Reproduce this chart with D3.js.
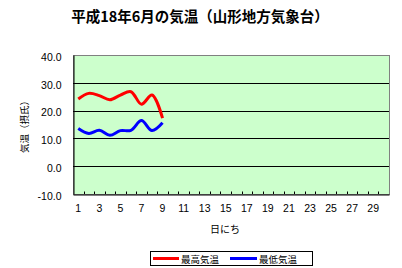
<!DOCTYPE html>
<html><head><meta charset="utf-8">
<script src="https://cdn.jsdelivr.net/npm/d3@7"></script>
<style>
html,body{margin:0;padding:0;background:#fff;}
svg{display:block;font-family:"Noto Sans CJK JP","Noto Sans",sans-serif;}
</style></head><body>
<svg id="c" width="402" height="268"></svg>
<script>
const days = d3.range(1, 31);
const dataDays = [1,2,3,4,5,6,7,8,9];
const maxTemp = [24.2, 26.2, 25.4, 23.9, 25.6, 26.8, 22.3, 25.6, 17.3];
const minTemp = [13.6, 11.8, 12.9, 11.1, 12.8, 12.9, 16.4, 12.8, 15.6];
const yTicks = [40, 30, 20, 10, 0, -10];
const xTickLabels = [1,3,5,7,9,11,13,15,17,19,21,23,25,27,29];
const seriesNames = ["最高気温", "最低気温"];
const seriesColors = ["#ff0000", "#0000ff"];
const title = "平成18年6月の気温（山形地方気象台）";
const yTitle = "気温（摂氏）";
const xTitle = "日にち";

const svg = d3.select("#c");
const L = 73, R = 389, T = 55, B = 194;

const x = d3.scaleBand().domain(days).range([L, R]);
const y = d3.scaleLinear().domain([-10, 40]).range([B, T]);

// plot background
svg.append("rect").attr("x", L).attr("y", T).attr("width", R - L).attr("height", B - T)
  .attr("fill", "#ccffcc").attr("stroke", "#808080").attr("stroke-width", 1)
  .attr("shape-rendering", "crispEdges");

// gridlines
svg.append("g").selectAll("line").data(yTicks.filter(v => v > -10 && v < 40)).join("line")
  .attr("x1", L).attr("x2", R).attr("y1", d => Math.round(y(d)) + 0.5).attr("y2", d => Math.round(y(d)) + 0.5)
  .attr("stroke", "#000").attr("stroke-width", 1);

// y axis
const yAxis = d3.axisLeft(y).tickValues(yTicks).tickFormat(d => d3.format(".1f")(d).replace("−", "-")).tickSize(0).tickPadding(12);
const gy = svg.append("g").attr("transform", `translate(${L + 0.5},0)`).call(yAxis);
gy.select(".domain").attr("stroke", "#000");
gy.selectAll("text").attr("font-size", 10.5).attr("fill", "#000").attr("dy", "0.5em")
  .attr("font-family", "Arial, 'Liberation Sans', sans-serif");

// x axis
const xAxis = d3.axisBottom(x).tickValues(xTickLabels).tickSize(0).tickPadding(10);
const gx = svg.append("g").attr("transform", `translate(0,${B + 0.5})`).call(xAxis);
gx.select(".domain").attr("stroke", "#000");
gx.selectAll("text").attr("font-size", 10.5).attr("fill", "#000")
  .attr("font-family", "Arial, 'Liberation Sans', sans-serif");
// inward ticks at category boundaries
svg.append("g").selectAll("line").data(days.slice(1)).join("line")
  .attr("x1", d => Math.round(x(d)) + 0.5).attr("x2", d => Math.round(x(d)) + 0.5)
  .attr("y1", B).attr("y2", B - 2.5).attr("stroke", "#000");

// lines
const line = d3.line().x((d, i) => x(dataDays[i]) + x.bandwidth() / 2).y(d => y(d)).curve(d3.curveCatmullRom.alpha(0.5));
[maxTemp, minTemp].forEach((s, i) => {
  svg.append("path").datum(s).attr("d", line).attr("fill", "none")
    .attr("stroke", seriesColors[i]).attr("stroke-width", 3).attr("stroke-linejoin", "round");
});

// title
svg.append("text").attr("x", 200).attr("y", 22).attr("text-anchor", "middle")
  .attr("font-size", 14.5).attr("font-weight", "bold").text(title);

// y title
svg.append("text").attr("transform", "translate(24,124.5) rotate(-90)").attr("text-anchor", "middle")
  .attr("dominant-baseline", "central").attr("font-size", 9.5).text(yTitle);

// x title
svg.append("text").attr("x", 225).attr("y", 228).attr("text-anchor", "middle")
  .attr("dominant-baseline", "central").attr("font-size", 10).text(xTitle);

// legend
const lg = svg.append("g");
lg.append("rect").attr("x", 150.5).attr("y", 251.5).attr("width", 162).attr("height", 14)
  .attr("fill", "#fff").attr("stroke", "#000");
const legX = [[153, 179, 181], [230, 257, 259]];
seriesNames.forEach((n, i) => {
  lg.append("line").attr("x1", legX[i][0]).attr("x2", legX[i][1]).attr("y1", 258.5).attr("y2", 258.5)
    .attr("stroke", seriesColors[i]).attr("stroke-width", 3);
  lg.append("text").attr("x", legX[i][2]).attr("y", 258.5).attr("dominant-baseline", "central")
    .attr("font-size", 9.5).text(n);
});
</script>
</body></html>
